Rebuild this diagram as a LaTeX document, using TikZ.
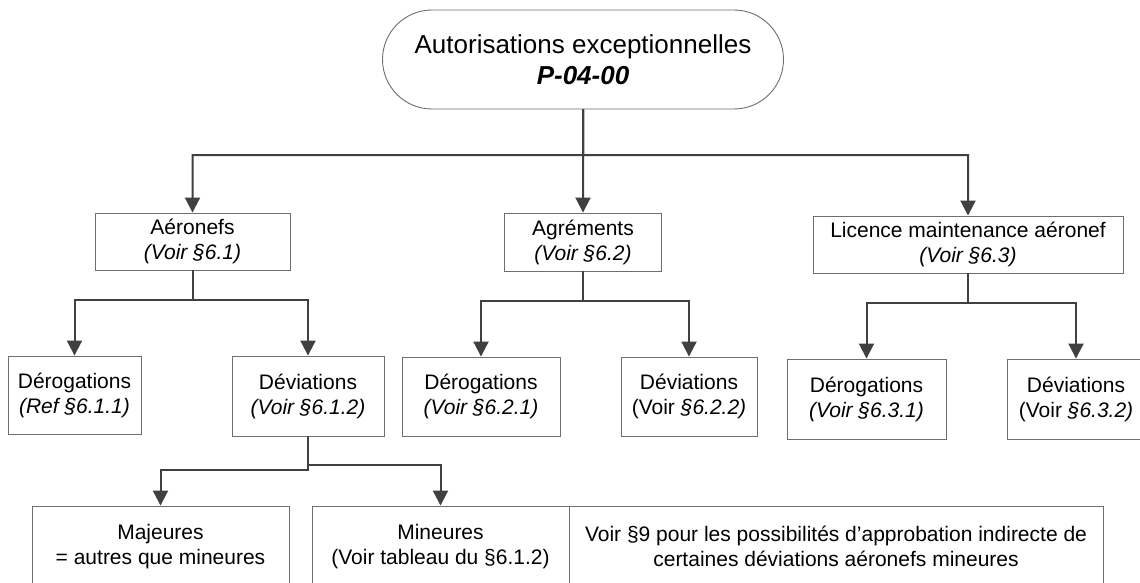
\documentclass[tikz,border=0pt]{standalone}
\usepackage{fontspec}
\setmainfont{Liberation Sans}
\usetikzlibrary{arrows.meta, shapes.misc}
\definecolor{linegray}{HTML}{404040}
\definecolor{boxgray}{HTML}{6E6E6E}

\begin{document}
\begin{tikzpicture}[x=1pt, y=-1pt,
	box/.style={draw=boxgray, line width=0.9pt, fill=white, rectangle, align=center, inner sep=0pt, font=\fontsize{21}{25}\selectfont},
	pill/.style={draw=boxgray, line width=0.9pt, fill=white, rounded rectangle, align=center, inner sep=0pt, font=\fontsize{26}{31}\selectfont},
	link/.style={draw=linegray, line width=2pt, -{Triangle[length=15pt, width=15pt]}}]
	\useasboundingbox (0,0) rectangle (1140,583);
	\clip (0,0) rectangle (1140,583);
	% top
	\node[pill, minimum width=401pt, minimum height=99pt] (top) at (583,59.5) {Autorisations exceptionnelles\\\textbf{\textit{P-04-00}}};
	% second level
	\node[box, minimum width=195pt, minimum height=57pt] (aero) at (192.5,241.5) {Aéronefs\\\textit{(Voir §6.1)}};
	\node[box, minimum width=157pt, minimum height=58pt] (agre) at (583,242) {Agréments\\\textit{(Voir §6.2)}};
	\node[box, minimum width=310pt, minimum height=57pt] (lic) at (968,244.5) {Licence maintenance aéronef\\\textit{(Voir §6.3)}};
	% third level
	\node[box, minimum width=133pt, minimum height=78pt] (derA) at (74.5,395) {Dérogations\\\textit{(Ref §6.1.1)}};
	\node[box, minimum width=152pt, minimum height=80pt] (devA) at (308,396) {Déviations\\\textit{(Voir §6.1.2)}};
	\node[box, minimum width=158pt, minimum height=79pt] (derB) at (481,396.5) {Dérogations\\\textit{(Voir §6.2.1)}};
	\node[box, minimum width=136pt, minimum height=79pt] (devB) at (689,396.5) {Déviations\\(Voir \textit{§6.2.2)}};
	\node[box, minimum width=159pt, minimum height=80pt] (derC) at (866.5,399) {Dérogations\\\textit{(Voir §6.3.1)}};
	\node[box, minimum width=138pt, minimum height=80pt] (devC) at (1076,399) {Déviations\\(Voir \textit{§6.3.2)}};
	% bottom level
	\node[box, minimum width=257pt, minimum height=81pt] (maj) at (160.5,546.5) {Majeures\\= autres que mineures};
	\node[box, minimum width=257pt, minimum height=81pt] (min) at (440.5,546.5) {Mineures\\(Voir tableau du §6.1.2)};
	\node[box, minimum width=534pt, minimum height=81pt] (voir) at (836,546.5) {Voir §9 pour les possibilités d’approbation indirecte de\\certaines déviations aéronefs mineures};
	% junctions
	\coordinate (jTop) at (583,155);
	\coordinate (jA) at (192.5,300);
	\coordinate (jB) at (583,301);
	\coordinate (jC) at (968,303);
	\coordinate (jD1) at (308,470);
	\coordinate (jD2) at (308,465);
	% links
	\draw[link] (top) -- (agre);
	\draw[link] (top) -- (jTop) -| (aero);
	\draw[link] (top) -- (jTop) -| (lic);
	\draw[link] (aero) -- (jA) -| (derA);
	\draw[link] (aero) -- (jA) -| (devA);
	\draw[link] (agre) -- (jB) -| (derB);
	\draw[link] (agre) -- (jB) -| (devB);
	\draw[link] (lic) -- (jC) -| (derC);
	\draw[link] (lic) -- (jC) -| (devC);
	\draw[link] (devA) -- (jD1) -| (maj);
	\draw[link] (devA) -- (jD2) -| (min);
\end{tikzpicture}
\end{document}
